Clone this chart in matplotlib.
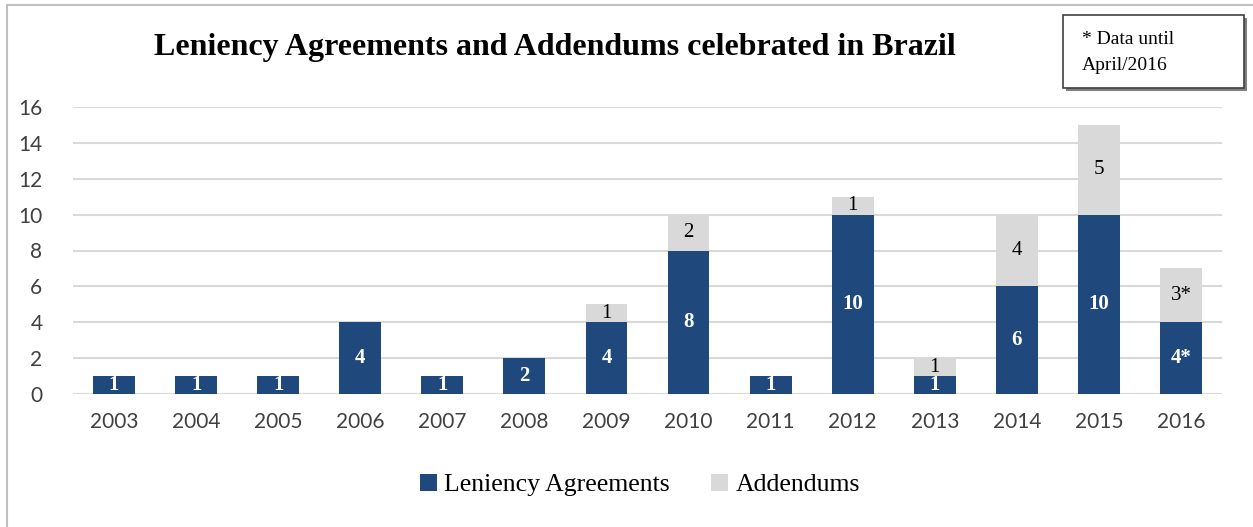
import matplotlib
matplotlib.use("Agg")
import matplotlib.pyplot as plt
from matplotlib.patches import Rectangle

years = ["2003", "2004", "2005", "2006", "2007", "2008", "2009", "2010",
         "2011", "2012", "2013", "2014", "2015", "2016"]
leniency = [1, 1, 1, 4, 1, 2, 4, 8, 1, 10, 1, 6, 10, 4]
addendums = [0, 0, 0, 0, 0, 0, 1, 2, 0, 1, 1, 4, 5, 3]
leniency_labels = ["1", "1", "1", "4", "1", "2", "4", "8", "1", "10", "1", "6", "10", "4*"]
addendum_labels = ["", "", "", "", "", "", "1", "2", "", "1", "1", "4", "5", "3*"]
note_lines = ["* Data until", "April/2016"]

navy = "#1F497D"
grey = "#D9D9D9"
serif = ["Liberation Serif", "DejaVu Serif"]
sans = ["Lato", "DejaVu Sans"]

W, H = 1253, 527
fig = plt.figure(figsize=(W / 100, H / 100), dpi=100)
fig.patch.set_facecolor("white")

# outer chart border
fig.add_artist(Rectangle((7 / W, -0.1), 1.2, 1 - 5 / H + 0.1, transform=fig.transFigure,
                         fill=False, edgecolor="#BFBFBF", linewidth=1.5))

ax = fig.add_axes([73 / W, 1 - 394 / H, (1222 - 73) / W, (394 - 107) / H])
x = list(range(len(years)))
width = 0.51
b1 = ax.bar(x, leniency, width, color=navy, label="Leniency Agreements", zorder=3)
b2 = ax.bar(x, addendums, width, bottom=leniency, color=grey, label="Addendums", zorder=3)

for i in x:
    ax.text(i, leniency[i] / 2, leniency_labels[i], ha="center", va="center",
            color="white", fontweight="bold", fontsize=15, family=serif, zorder=4)
    if addendum_labels[i]:
        ax.text(i, leniency[i] + addendums[i] / 2, addendum_labels[i], ha="center",
                va="center", color="black", fontsize=15, family=serif, zorder=4)

ax.set_xlim(-0.5, len(years) - 0.5)
ax.set_ylim(0, 16)
ax.set_yticks(range(0, 17, 2))
ax.set_xticks(x)
ax.set_xticklabels(years)
ax.tick_params(axis="both", length=0, labelsize=15, labelcolor="#404040")
ax.tick_params(axis="y", pad=22)
ax.tick_params(axis="x", pad=13)
for lab in ax.get_xticklabels() + ax.get_yticklabels():
    lab.set_family(sans)
ax.grid(axis="y", color="#D9D9D9", linewidth=1.5, zorder=0)
for s in ax.spines.values():
    s.set_visible(False)

fig.text(555 / W, 1 - 47 / H, "Leniency Agreements and Addendums celebrated in Brazil",
         ha="center", va="center", fontsize=23, fontweight="bold", family=serif)

# note box with shadow
fig.add_artist(Rectangle((1066 / W, 1 - 91 / H), 181 / W, 73 / H, transform=fig.transFigure,
                         facecolor="#7F7F7F", edgecolor="none"))
fig.add_artist(Rectangle((1063 / W, 1 - 88 / H), 181 / W, 73 / H, transform=fig.transFigure,
                         facecolor="white", edgecolor="#404040", linewidth=1.2))
for k, line in enumerate(note_lines):
    fig.text(1082 / W, 1 - (40 + 26 * k) / H, line, ha="left", va="center",
             fontsize=14, family=serif)

fig.legend(handles=[b1, b2], loc="center", bbox_to_anchor=(640 / W, 1 - 485 / H),
           ncol=2, frameon=False, prop={"family": serif, "size": 18.5},
           handlelength=0.65, handleheight=0.65, handletextpad=0.3, columnspacing=1.6)

fig.savefig("out.png", dpi=100)
